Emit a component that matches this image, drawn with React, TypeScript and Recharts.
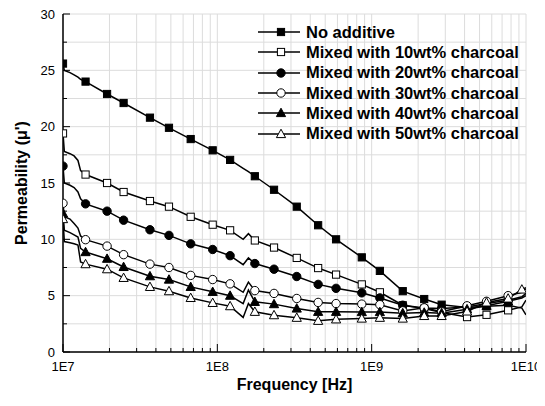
import { LineChart, Line, XAxis, YAxis, CartesianGrid, Legend } from 'recharts'

const FONT = '"Liberation Sans", Arial, sans-serif'

// frequency points (Hz)
const FREQ = [
  1e7, 1.02e7, 1.11e7, 1.18e7, 1.25e7, 1.3e7, 1.4e7, 1.93e7, 2.47e7, 3.66e7,
  4.86e7, 6.72e7, 9.33e7, 1.21e8, 1.47e8, 1.59e8, 1.75e8, 2.33e8, 3.27e8, 4.5e8,
  5.88e8, 8.63e8, 1.13e9, 1.59e9, 2.19e9, 2.84e9, 4.15e9, 5.55e9, 7.66e9, 9.4e9, 1e10,
]

const NO_ADDITIVE = [
  25.6, 25.0, 24.8, 24.6, 24.4, 24.2, 24.0, 22.9, 22.1, 20.8,
  19.9, 18.9, 17.9, 17.05, 16.3, 16.0, 15.6, 14.4, 12.9, 11.25,
  10.0, 8.4, 7.2, 5.4, 4.7, 4.2, 3.95, 4.05, 4.15, 3.9, 3.3,
]
const WT10 = [
  19.4, 17.8, 17.6, 17.4, 17.0, 16.1, 15.75, 15.0, 14.2, 13.4,
  12.9, 12.0, 11.3, 10.8, 10.0, 10.5, 9.9, 9.27, 8.35, 7.45,
  6.87, 6.0, 5.3, 4.15, 3.85, 3.5, 3.1, 3.3, 3.7, 4.0, 4.6,
]
const WT20 = [
  16.5, 15.0, 14.8, 14.6, 14.2, 13.6, 13.15, 12.5, 11.7, 10.85,
  10.35, 9.6, 9.1, 8.55, 7.75, 8.35, 7.85, 7.35, 6.7, 6.0,
  5.65, 5.25, 4.8, 4.15, 3.9, 3.85, 4.0, 4.3, 4.6, 4.9, 5.2,
]
const WT30 = [
  13.2, 12.0, 11.8, 11.4, 11.0, 10.3, 9.97, 9.4, 8.64, 7.8,
  7.5, 6.8, 6.43, 6.05, 5.3, 6.2, 5.45, 5.2, 4.75, 4.4,
  4.3, 4.25, 4.2, 3.65, 3.92, 3.57, 4.1, 4.5, 5.0, 5.3, 5.6,
]
const WT40 = [
  12.3, 10.8, 10.6, 10.4, 10.2, 9.2, 8.87, 8.28, 7.55, 6.73,
  6.43, 5.78, 5.34, 5.0, 4.3, 5.5, 4.45, 4.25, 3.86, 3.57,
  3.57, 3.55, 3.55, 3.45, 3.5, 3.45, 3.8, 4.1, 4.5, 4.8, 5.0,
]
const WT50 = [
  11.8, 9.8, 9.7, 9.6, 9.5, 8.0, 7.8, 7.35, 6.58, 5.78,
  5.4, 4.8, 4.36, 4.07, 3.07, 4.3, 3.57, 3.27, 3.04, 2.77,
  2.9, 2.97, 3.04, 2.97, 3.2, 3.2, 3.6, 4.4, 4.75, 5.55, 5.7,
]

// indices of FREQ that carry a symbol
const MARKS = [0, 6, 7, 8, 9, 10, 11, 12, 13, 16, 17, 18, 19, 20, 21, 22, 23, 24, 25, 26, 27, 28]
const MARKS_50 = [...MARKS, 29]

const X_DECADES = [1e7, 1e8, 1e9]
const X_MULT = [1, 2, 3, 4, 5, 6, 7, 8, 9]
const X_TICKS = [...X_DECADES.flatMap((d) => X_MULT.map((m) => m * d)), 1e10]
const Y_TICKS = [0, 2.5, 5, 7.5, 10, 12.5, 15, 17.5, 20, 22.5, 25, 27.5, 30]

const SERIES = [
  { key: 'na', name: 'No additive', values: NO_ADDITIVE, shape: 'square', filled: true, marks: MARKS },
  { key: 'w10', name: 'Mixed with 10wt% charcoal', values: WT10, shape: 'square', filled: false, marks: MARKS },
  { key: 'w20', name: 'Mixed with 20wt% charcoal', values: WT20, shape: 'circle', filled: true, marks: MARKS },
  { key: 'w30', name: 'Mixed with 30wt% charcoal', values: WT30, shape: 'circle', filled: false, marks: MARKS },
  { key: 'w40', name: 'Mixed with 40wt% charcoal', values: WT40, shape: 'triangle', filled: true, marks: MARKS },
  { key: 'w50', name: 'Mixed with 50wt% charcoal', values: WT50, shape: 'triangle', filled: false, marks: MARKS_50 },
]

const data = FREQ.map((f, i) => {
  const row: any = { f }
  SERIES.forEach((s) => { row[s.key] = s.values[i] })
  return row
})

const isDecade = (v: number) => Math.abs(Math.log10(v) - Math.round(Math.log10(v))) < 1e-6

function Marker({ shape, filled, cx, cy }: any) {
  const fill = filled ? '#000' : '#fff'
  if (shape === 'square') {
    return <rect x={cx - 3.6} y={cy - 3.6} width={7.2} height={7.2} fill={fill} stroke="#000" strokeWidth={1} />
  }
  if (shape === 'circle') {
    return <circle cx={cx} cy={cy} r={4.2} fill={fill} stroke="#000" strokeWidth={1} />
  }
  return (
    <polygon
      points={`${cx},${cy - 4.8} ${cx - 4.6},${cy + 3.6} ${cx + 4.6},${cy + 3.6}`}
      fill={fill} stroke="#000" strokeWidth={1}
    />
  )
}

const BottomTick = (p: any) => {
  const v = p.payload.value
  const major = isDecade(v)
  return (
    <g>
      <line x1={p.x} x2={p.x} y1={p.y} y2={p.y - (major ? 8 : 4)} stroke="#000" />
      {major && (
        <text x={p.x} y={p.y + 19} textAnchor="middle" fontSize={13} fontFamily={FONT} fill="#000">
          {`1E${Math.round(Math.log10(v))}`}
        </text>
      )}
    </g>
  )
}

const TopTick = (p: any) => {
  const major = isDecade(p.payload.value)
  return <line x1={p.x} x2={p.x} y1={p.y} y2={p.y + (major ? 8 : 4)} stroke="#000" />
}

const LeftTick = (p: any) => {
  const v = p.payload.value
  const major = v % 5 === 0
  return (
    <g>
      <line x1={p.x} x2={p.x + (major ? 7 : 4)} y1={p.y} y2={p.y} stroke="#000" />
      {major && (
        <text x={p.x - 8} y={p.y + 4.6} textAnchor="end" fontSize={13} fontFamily={FONT} fill="#000">
          {v}
        </text>
      )}
    </g>
  )
}

const RightTick = (p: any) => {
  const major = p.payload.value % 5 === 0
  return <line x1={p.x} x2={p.x - (major ? 7 : 4)} y1={p.y} y2={p.y} stroke="#000" />
}

const LegendBox = () => (
  <div style={{ fontFamily: FONT, fontWeight: 'bold', fontSize: 16.5, color: '#000' }}>
    {SERIES.map((s) => (
      <div key={s.key} style={{ display: 'flex', alignItems: 'center', height: 20.3, whiteSpace: 'nowrap' }}>
        <svg width={42} height={14} style={{ display: 'block' }}>
          <line x1={0} y1={7} x2={42} y2={7} stroke="#000" strokeWidth={1.5} />
          <Marker shape={s.shape} filled={s.filled} cx={23} cy={7} />
        </svg>
        <span style={{ marginLeft: 6 }}>{s.name}</span>
      </div>
    ))}
  </div>
)

const YTitle = ({ viewBox }: any) => {
  const x = 13
  const y = viewBox.y + viewBox.height / 2
  return (
    <text
      x={x} y={y} transform={`rotate(-90, ${x}, ${y})`} textAnchor="middle" dominantBaseline="central"
      fontSize={16} fontWeight="bold" fontFamily={FONT} fill="#000"
    >
      Permeability (μ')
    </text>
  )
}

const axisLine = { stroke: '#000', strokeWidth: 1.5 }

export default function App() {
  return (
    <div style={{ width: 537, height: 390 }}>
      <style>{'html, body { overflow: hidden; } .recharts-surface { overflow: visible; }'}</style>
      <LineChart width={537} height={390} data={data} margin={{ top: 6, right: 19, bottom: 0, left: 0 }}>
        <CartesianGrid stroke="#dcdcdc" strokeWidth={1} />
        <XAxis
          dataKey="f" type="number" scale="log" domain={[1e7, 1e10]} allowDataOverflow
          ticks={X_TICKS} interval={0} height={46} tickSize={0} tickMargin={0} tickLine={false}
          axisLine={axisLine} tick={<BottomTick />}
          label={{ value: 'Frequency [Hz]', position: 'insideBottom', offset: 8, fontSize: 16, fontWeight: 'bold', fontFamily: FONT, fill: '#000' }}
        />
        <XAxis
          xAxisId="top" orientation="top" dataKey="f" type="number" scale="log" domain={[1e7, 1e10]} allowDataOverflow
          ticks={X_TICKS} interval={0} height={0} tickSize={0} tickMargin={0} tickLine={false}
          axisLine={axisLine} tick={<TopTick />}
        />
        <YAxis
          type="number" domain={[0, 30]} ticks={Y_TICKS} interval={0} width={55}
          tickSize={0} tickMargin={0} tickLine={false} axisLine={axisLine} tick={<LeftTick />}
          label={{ content: <YTitle /> }}
        />
        <YAxis
          yAxisId="right" orientation="right" type="number" domain={[0, 30]} ticks={Y_TICKS} interval={0} width={0}
          tickSize={0} tickMargin={0} tickLine={false} axisLine={axisLine} tick={<RightTick />}
        />
        <Legend
          layout="vertical" align="center" verticalAlign="middle" content={<LegendBox />}
          wrapperStyle={{ left: 250, top: 14, width: 285 }}
        />
        {SERIES.map((s) => (
          <Line
            key={s.key} dataKey={s.key} name={s.name} type="linear" stroke="#000" strokeWidth={1.5}
            isAnimationActive={false} activeDot={false}
            dot={(p: any) =>
              s.marks.includes(p.index)
                ? <Marker key={`${s.key}-${p.index}`} shape={s.shape} filled={s.filled} cx={p.cx} cy={p.cy} />
                : <g key={`${s.key}-${p.index}`} />
            }
          />
        ))}
      </LineChart>
    </div>
  )
}
